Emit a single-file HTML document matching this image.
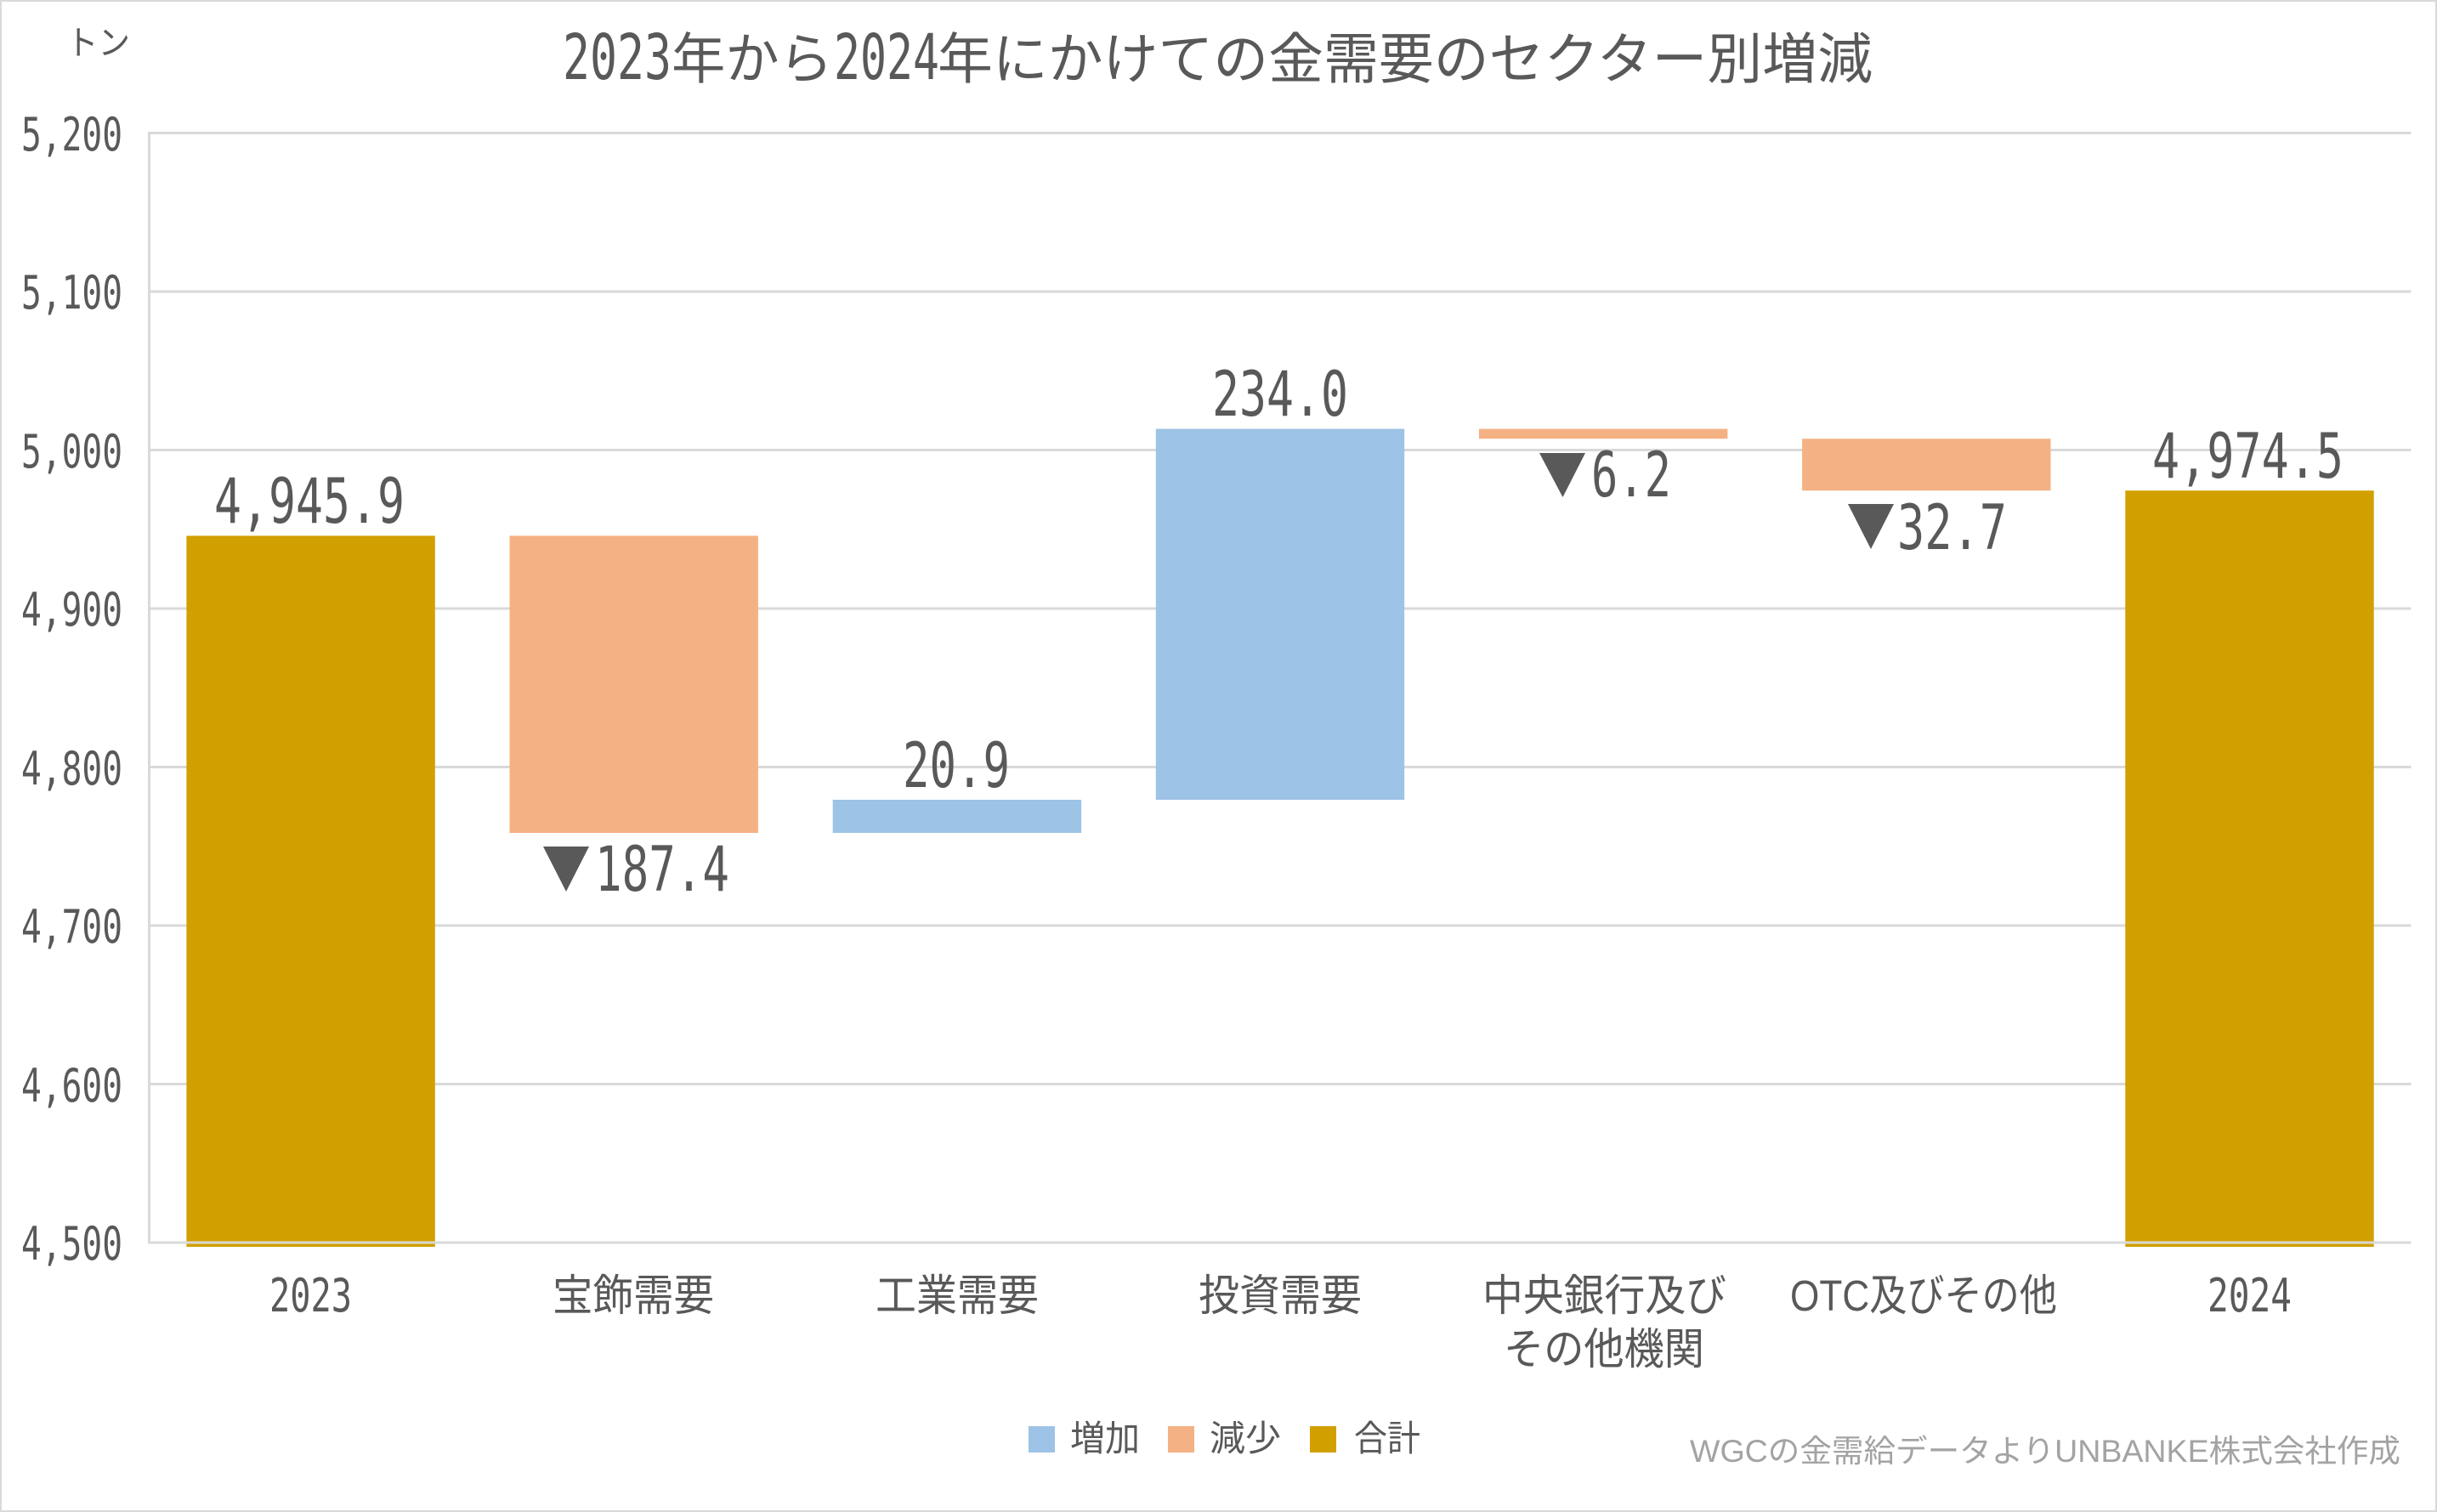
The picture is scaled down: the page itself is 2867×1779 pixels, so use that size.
<!DOCTYPE html>
<html>
<head>
<meta charset="utf-8">
<style>
  html, body { margin: 0; padding: 0; background: #ffffff; }
  svg { display: block; }
  .jp { font-family: "Liberation Sans", "Noto Sans CJK JP", sans-serif; fill: #595959; }
  .num { font-family: "DejaVu Sans Mono", "Liberation Mono", monospace; fill: #595959; }
</style>
</head>
<body>
<svg xmlns="http://www.w3.org/2000/svg" width="2867" height="1779" viewBox="0 0 2867 1779">
  <rect x="0" y="0" width="2867" height="1779" fill="#ffffff"/>
  <rect x="1" y="1" width="2865" height="1777" fill="none" stroke="#d9d9d9" stroke-width="2"/>

  <!-- gridlines -->
  <g stroke="#d9d9d9" stroke-width="3">
    <line x1="175.5" y1="156.5" x2="2836.5" y2="156.5"/>
    <line x1="175.5" y1="343" x2="2836.5" y2="343"/>
    <line x1="175.5" y1="529.5" x2="2836.5" y2="529.5"/>
    <line x1="175.5" y1="716" x2="2836.5" y2="716"/>
    <line x1="175.5" y1="902.5" x2="2836.5" y2="902.5"/>
    <line x1="175.5" y1="1089" x2="2836.5" y2="1089"/>
    <line x1="175.5" y1="1275.5" x2="2836.5" y2="1275.5"/>
    <line x1="175.5" y1="155" x2="175.5" y2="1463.5"/>
  </g>

  <!-- bars -->
  <rect x="219.4" y="630.4" width="292.4" height="836.6" fill="#D29F00"/>
  <rect x="599.5" y="630.4" width="292.4" height="349.6" fill="#F4B183"/>
  <rect x="979.7" y="941.0" width="292.4" height="39.0" fill="#9DC3E6"/>
  <rect x="1359.8" y="504.6" width="292.4" height="436.4" fill="#9DC3E6"/>
  <rect x="1740.0" y="504.6" width="292.4" height="11.6" fill="#F4B183"/>
  <rect x="2120.1" y="516.2" width="292.4" height="61.0" fill="#F4B183"/>
  <rect x="2500.3" y="577.2" width="292.4" height="889.8" fill="#D29F00"/>

  <!-- horizontal axis line (on top) -->
  <line x1="175.5" y1="1462" x2="2836.5" y2="1462" stroke="#d9d9d9" stroke-width="3"/>

  <!-- title -->
  <text class="num" x="662" y="93" font-size="74" textLength="128" lengthAdjust="spacingAndGlyphs">2023</text>
  <text class="jp" x="790" y="92" font-size="65" textLength="190" lengthAdjust="spacingAndGlyphs">年から</text>
  <text class="num" x="981" y="93" font-size="74" textLength="124" lengthAdjust="spacingAndGlyphs">2024</text>
  <text class="jp" x="1103" y="92" font-size="65" textLength="1100" lengthAdjust="spacingAndGlyphs">年にかけての金需要のセクター別増減</text>

  <!-- unit -->
  <text class="jp" x="78" y="64" font-size="40" textLength="75" lengthAdjust="spacingAndGlyphs">トン</text>

  <!-- y tick labels -->
  <g class="num" font-size="54">
    <text x="25" y="177" textLength="119" lengthAdjust="spacingAndGlyphs">5,200</text>
    <text x="25" y="363" textLength="119" lengthAdjust="spacingAndGlyphs">5,100</text>
    <text x="25" y="550" textLength="119" lengthAdjust="spacingAndGlyphs">5,000</text>
    <text x="25" y="736" textLength="119" lengthAdjust="spacingAndGlyphs">4,900</text>
    <text x="25" y="923" textLength="119" lengthAdjust="spacingAndGlyphs">4,800</text>
    <text x="25" y="1109" textLength="119" lengthAdjust="spacingAndGlyphs">4,700</text>
    <text x="25" y="1296" textLength="119" lengthAdjust="spacingAndGlyphs">4,600</text>
    <text x="25" y="1482" textLength="119" lengthAdjust="spacingAndGlyphs">4,500</text>
  </g>

  <!-- data labels -->
  <g class="num" font-size="73">
    <text x="252" y="615" textLength="224" lengthAdjust="spacingAndGlyphs">4,945.9</text>
    <text x="700" y="1048" textLength="158" lengthAdjust="spacingAndGlyphs">187.4</text>
    <text x="1062" y="926" textLength="126" lengthAdjust="spacingAndGlyphs">20.9</text>
    <text x="1426" y="489" textLength="160" lengthAdjust="spacingAndGlyphs">234.0</text>
    <text x="1872" y="584" textLength="94" lengthAdjust="spacingAndGlyphs">6.2</text>
    <text x="2232" y="646" textLength="129" lengthAdjust="spacingAndGlyphs">32.7</text>
    <text x="2532" y="562" textLength="225" lengthAdjust="spacingAndGlyphs">4,974.5</text>
  </g>
  <g fill="#595959">
    <polygon points="639,996 693,996 666,1049"/>
    <polygon points="1811,533 1865,533 1838.5,585"/>
    <polygon points="2174,593 2228,593 2201,646"/>
  </g>

  <!-- category labels -->
  <text class="num" x="317" y="1543" font-size="54" textLength="97" lengthAdjust="spacingAndGlyphs">2023</text>
  <text class="jp" x="650" y="1542" font-size="51" textLength="190" lengthAdjust="spacingAndGlyphs">宝飾需要</text>
  <text class="jp" x="1030" y="1542" font-size="51" textLength="192" lengthAdjust="spacingAndGlyphs">工業需要</text>
  <text class="jp" x="1410" y="1542" font-size="51" textLength="192" lengthAdjust="spacingAndGlyphs">投資需要</text>
  <text class="jp" x="1744" y="1542" font-size="51" textLength="287" lengthAdjust="spacingAndGlyphs">中央銀行及び</text>
  <text class="jp" x="1769" y="1605" font-size="51" textLength="236" lengthAdjust="spacingAndGlyphs">その他機関</text>
  <text class="jp" x="2106" y="1542" font-size="51" textLength="314" lengthAdjust="spacingAndGlyphs">OTC及びその他</text>
  <text class="num" x="2597" y="1543" font-size="54" textLength="99" lengthAdjust="spacingAndGlyphs">2024</text>

  <!-- legend -->
  <rect x="1210" y="1678" width="31" height="31" fill="#9DC3E6"/>
  <text class="jp" x="1259" y="1707" font-size="42" textLength="82" lengthAdjust="spacingAndGlyphs">増加</text>
  <rect x="1374" y="1678" width="31" height="31" fill="#F4B183"/>
  <text class="jp" x="1423" y="1707" font-size="42" textLength="84" lengthAdjust="spacingAndGlyphs">減少</text>
  <rect x="1541" y="1678" width="31" height="31" fill="#D29F00"/>
  <text class="jp" x="1593" y="1707" font-size="42" textLength="78" lengthAdjust="spacingAndGlyphs">合計</text>

  <!-- credit -->
  <text x="1988" y="1720" font-size="37" textLength="836" lengthAdjust="spacingAndGlyphs" style="font-family:'Liberation Sans','Noto Sans CJK JP',sans-serif; fill:#a3a3a3;">WGCの金需給データよりUNBANKE株式会社作成</text>
</svg>
</body>
</html>
